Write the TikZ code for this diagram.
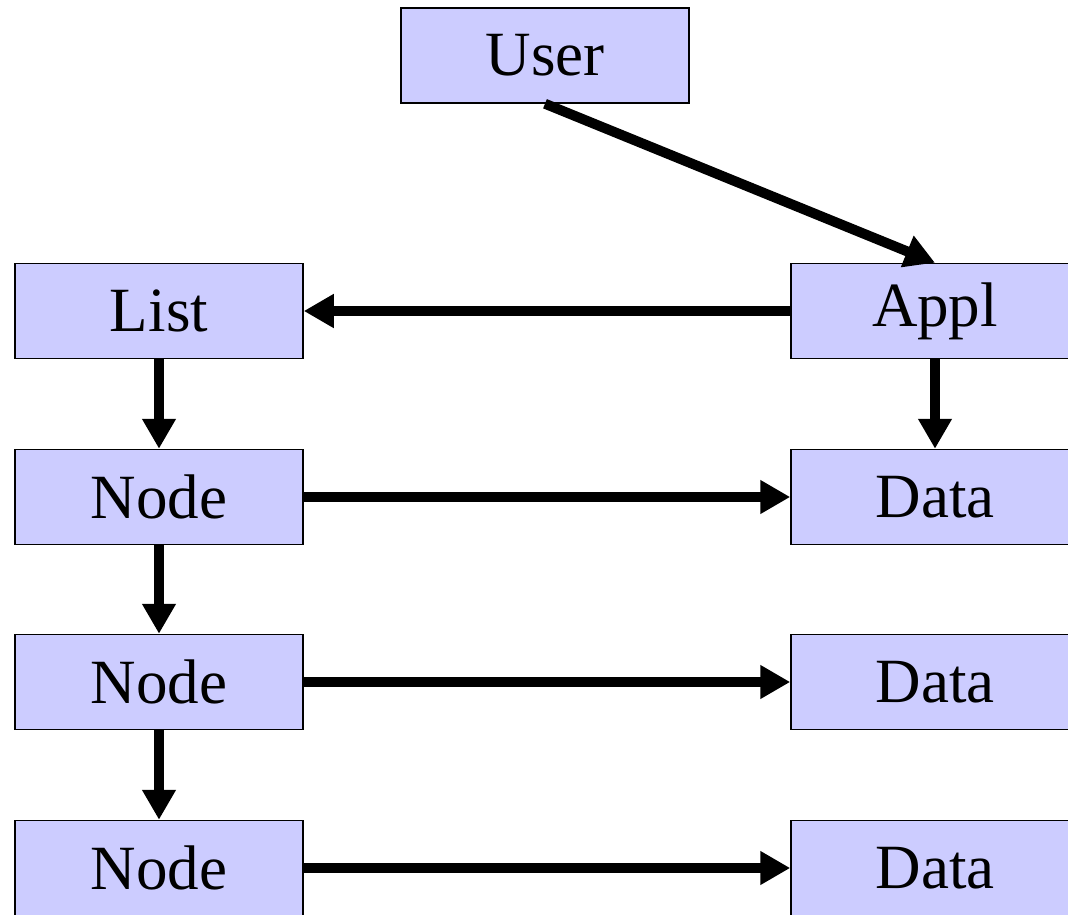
\documentclass[tikz,border=0pt]{standalone}
\usepackage{fontspec}
\setmainfont{Liberation Serif}
\usetikzlibrary{arrows.meta}
\definecolor{boxfill}{HTML}{CCCCFF}
\tikzset{
  box/.style={draw=black, line width=1.5pt, fill=boxfill, minimum width=288pt,
    minimum height=95pt, inner sep=0pt, font=\fontsize{63}{70}\selectfont},
  link/.style={line width=10pt, -{Triangle[length=30pt,width=32pt]}}
}
\begin{document}
\begin{tikzpicture}[x=1pt,y=-1pt]
  \useasboundingbox (0,0) rectangle (1068,915);
  \clip (0,0) rectangle (1068,915);
  % boxes
  \node[box] (user)  at (545,55.5)  {User};
  \node[box] (list)  at (159,311)   {List};
  \node[box] (appl)  at (935,311)   {Appl};
  \node[box] (node1) at (159,497)   {Node};
  \node[box] (data1) at (935,497)   {Data};
  \node[box] (node2) at (159,682)   {Node};
  \node[box] (data2) at (935,682)   {Data};
  \node[box] (node3) at (159,868)   {Node};
  \node[box] (data3) at (935,868)   {Data};
  % connectors
  \draw[link] (user.south) -- (appl.north);
  \draw[link] (appl.west) -- (list.east);
  \draw[link] (list.south) -- (node1.north);
  \draw[link] (appl.south) -- (data1.north);
  \draw[link] (node1.south) -- (node2.north);
  \draw[link] (node2.south) -- (node3.north);
  \draw[link] (node1.east) -- (data1.west);
  \draw[link] (node2.east) -- (data2.west);
  \draw[link] (node3.east) -- (data3.west);
\end{tikzpicture}
\end{document}
